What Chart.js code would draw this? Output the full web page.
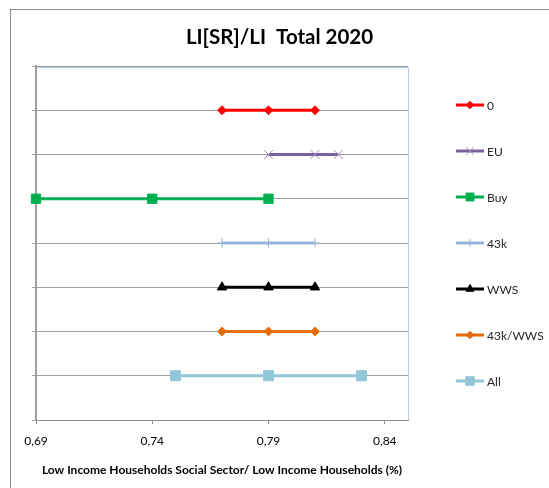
<!DOCTYPE html>
<html>
<head>
<meta charset="utf-8">
<script src="https://cdn.jsdelivr.net/npm/chart.js@4.4.1/dist/chart.umd.min.js"></script>
<style>
  html, body { margin: 0; padding: 0; background: #fff; }
  #wrap { position: relative; width: 549px; height: 488px; overflow: hidden; }
  #frame { position: absolute; left: 10px; top: 9px; width: 600px; height: 600px; border: 1px solid #8e8e8e; pointer-events: none; }
</style>
</head>
<body>
<div id="wrap">
  <canvas id="chart" width="549" height="488"></canvas>
  <div id="frame"></div>
</div>
<script>
// series names, top to bottom
const seriesNames = ["0", "EU", "Buy", "43k", "WWS", "43k/WWS", "All"];

// values of each series (share of low income households in social sector)
const valuesZero = [0.77, 0.79, 0.81];
const valuesEU = [0.79, 0.81, 0.82];
const valuesBuy = [0.69, 0.74, 0.79];
const values43k = [0.77, 0.79, 0.81];
const valuesWWS = [0.77, 0.79, 0.81];
const values43kWWS = [0.77, 0.79, 0.81];
const valuesAll = [0.75, 0.79, 0.83];

const xTicks = [0.69, 0.74, 0.79, 0.84];

const allValues = [valuesZero, valuesEU, valuesBuy, values43k, valuesWWS, values43kWWS, valuesAll];

const seriesStyles = [
  { line: "#ff0000", fill: "#ff0000", stroke: "#ff0000", point: "rectRot", r: 4.4, bw: 1 },
  { line: "#7b609f", fill: "#9f8cbf", stroke: "#9f8cbf", point: "crossRot", r: 6.3, bw: 1 },
  { line: "#00b050", fill: "#00b050", stroke: "#00b050", point: "rect", r: 6.6, bw: 1 },
  { line: "#95b3d7", fill: "#95b3d7", stroke: "#95b3d7", point: "cross", r: 4.8, bw: 1 },
  { line: "#000000", fill: "#000000", stroke: "#000000", point: "triangle", r: 5.4, bw: 1 },
  { line: "#e46c0a", fill: "#e46c0a", stroke: "#e46c0a", point: "rectRot", r: 4.4, bw: 1 },
  { line: "#93c6d8", fill: "#93c6d8", stroke: "#93c6d8", point: "rect", r: 7.1, bw: 1 }
];

const FONT = "Lato, 'Open Sans', sans-serif";

// one row per series, first series on top
const datasets = seriesNames.map((name, i) => {
  const st = seriesStyles[i];
  const row = seriesNames.length - i;
  return {
    label: name,
    data: allValues[i].map(v => ({ x: v, y: row })),
    showLine: true,
    borderColor: st.line,
    borderWidth: 3,
    pointStyle: st.point,
    pointRadius: st.r,
    pointHoverRadius: st.r,
    pointBackgroundColor: st.fill,
    pointBorderColor: st.stroke,
    pointBorderWidth: st.bw,
    clip: false
  };
});

// legend on the right, line + marker like Excel
const sideLegend = {
  id: "sideLegend",
  afterDraw(chart) {
    const ctx = chart.ctx;
    const area = chart.chartArea;
    const mid = (area.top + area.bottom) / 2;
    const gap = 46;
    const n = chart.data.datasets.length;
    chart.data.datasets.forEach((ds, i) => {
      const y = mid + (i - (n - 1) / 2) * gap;
      const x0 = area.right + 48;
      ctx.save();
      ctx.strokeStyle = ds.borderColor;
      ctx.lineWidth = 3;
      ctx.beginPath();
      ctx.moveTo(x0, y);
      ctx.lineTo(x0 + 28, y);
      ctx.stroke();
      ctx.fillStyle = ds.pointBackgroundColor;
      ctx.strokeStyle = ds.pointBorderColor;
      ctx.lineWidth = ds.pointBorderWidth;
      Chart.helpers.drawPoint(ctx, { pointStyle: ds.pointStyle, radius: ds.pointRadius * 0.85, rotation: 0, borderWidth: ds.pointBorderWidth }, x0 + 14, y);
      ctx.fillStyle = "#262626";
      ctx.font = "12px " + FONT;
      ctx.textBaseline = "middle";
      ctx.textAlign = "left";
      ctx.fillText(ds.label, x0 + 31, y + 1);
      ctx.restore();
    });
  }
};

// light blue border on the top and right of the plot area
const plotBorder = {
  id: "plotBorder",
  beforeDatasetsDraw(chart) {
    const ctx = chart.ctx;
    const a = chart.chartArea;
    ctx.save();
    ctx.strokeStyle = "#b9cde5";
    ctx.lineWidth = 1;
    ctx.beginPath();
    ctx.moveTo(a.left + 1, a.top + 1.5);
    ctx.lineTo(a.right + 0.5, a.top + 1.5);
    ctx.lineTo(a.right + 0.5, a.bottom);
    ctx.stroke();
    ctx.restore();
  }
};

new Chart(document.getElementById("chart"), {
  type: "scatter",
  data: { datasets: datasets },
  plugins: [sideLegend, plotBorder],
  options: {
    responsive: false,
    devicePixelRatio: 1,
    animation: false,
    layout: { padding: { left: 10, right: 0, top: 0, bottom: 0 } },
    plugins: {
      legend: { display: false },
      tooltip: { enabled: false },
      title: {
        display: true,
        text: "LI[SR]/LI  Total 2020",
        color: "#000",
        font: { family: FONT, size: 20.5, weight: "bold", lineHeight: 1.2 },
        padding: { top: 25, bottom: 16.4 }
      }
    },
    scales: {
      x: {
        type: "linear",
        min: 0.69,
        max: 0.85,
        afterBuildTicks: scale => { scale.ticks = xTicks.map(v => ({ value: v })); },
        afterFit: scale => { scale.height = 68; },
        grid: { drawOnChartArea: false, drawTicks: true, tickLength: 4, color: "#8c8c8c" },
        border: { color: "#8c8c8c", width: 1 },
        ticks: {
          padding: 10,
          color: "#000",
          font: { family: FONT, size: 12 },
          maxRotation: 0,
          callback: v => Number(v).toFixed(2).replace(".", ",")
        },
        title: {
          display: true,
          text: "Low Income Households Social Sector/ Low Income Households (%)",
          color: "#000",
          font: { family: FONT, size: 12, weight: "bold", lineHeight: 1.2 },
          padding: { top: 15, bottom: 11 }
        }
      },
      y: {
        type: "linear",
        min: 0,
        max: 8,
        afterFit: scale => { scale.width = 26; },
        ticks: { display: false, stepSize: 1 },
        grid: { drawTicks: true, tickLength: 4, color: "#a0a0a0" },
        border: { color: "#a0a0a0", width: 2 }
      },
      // empty axis that only keeps room for the legend
      legendSpace: {
        type: "linear",
        position: "right",
        afterFit: scale => { scale.width = 141; },
        ticks: { display: false },
        grid: { display: false, drawTicks: false },
        border: { display: false }
      }
    }
  }
});
</script>
</body>
</html>
